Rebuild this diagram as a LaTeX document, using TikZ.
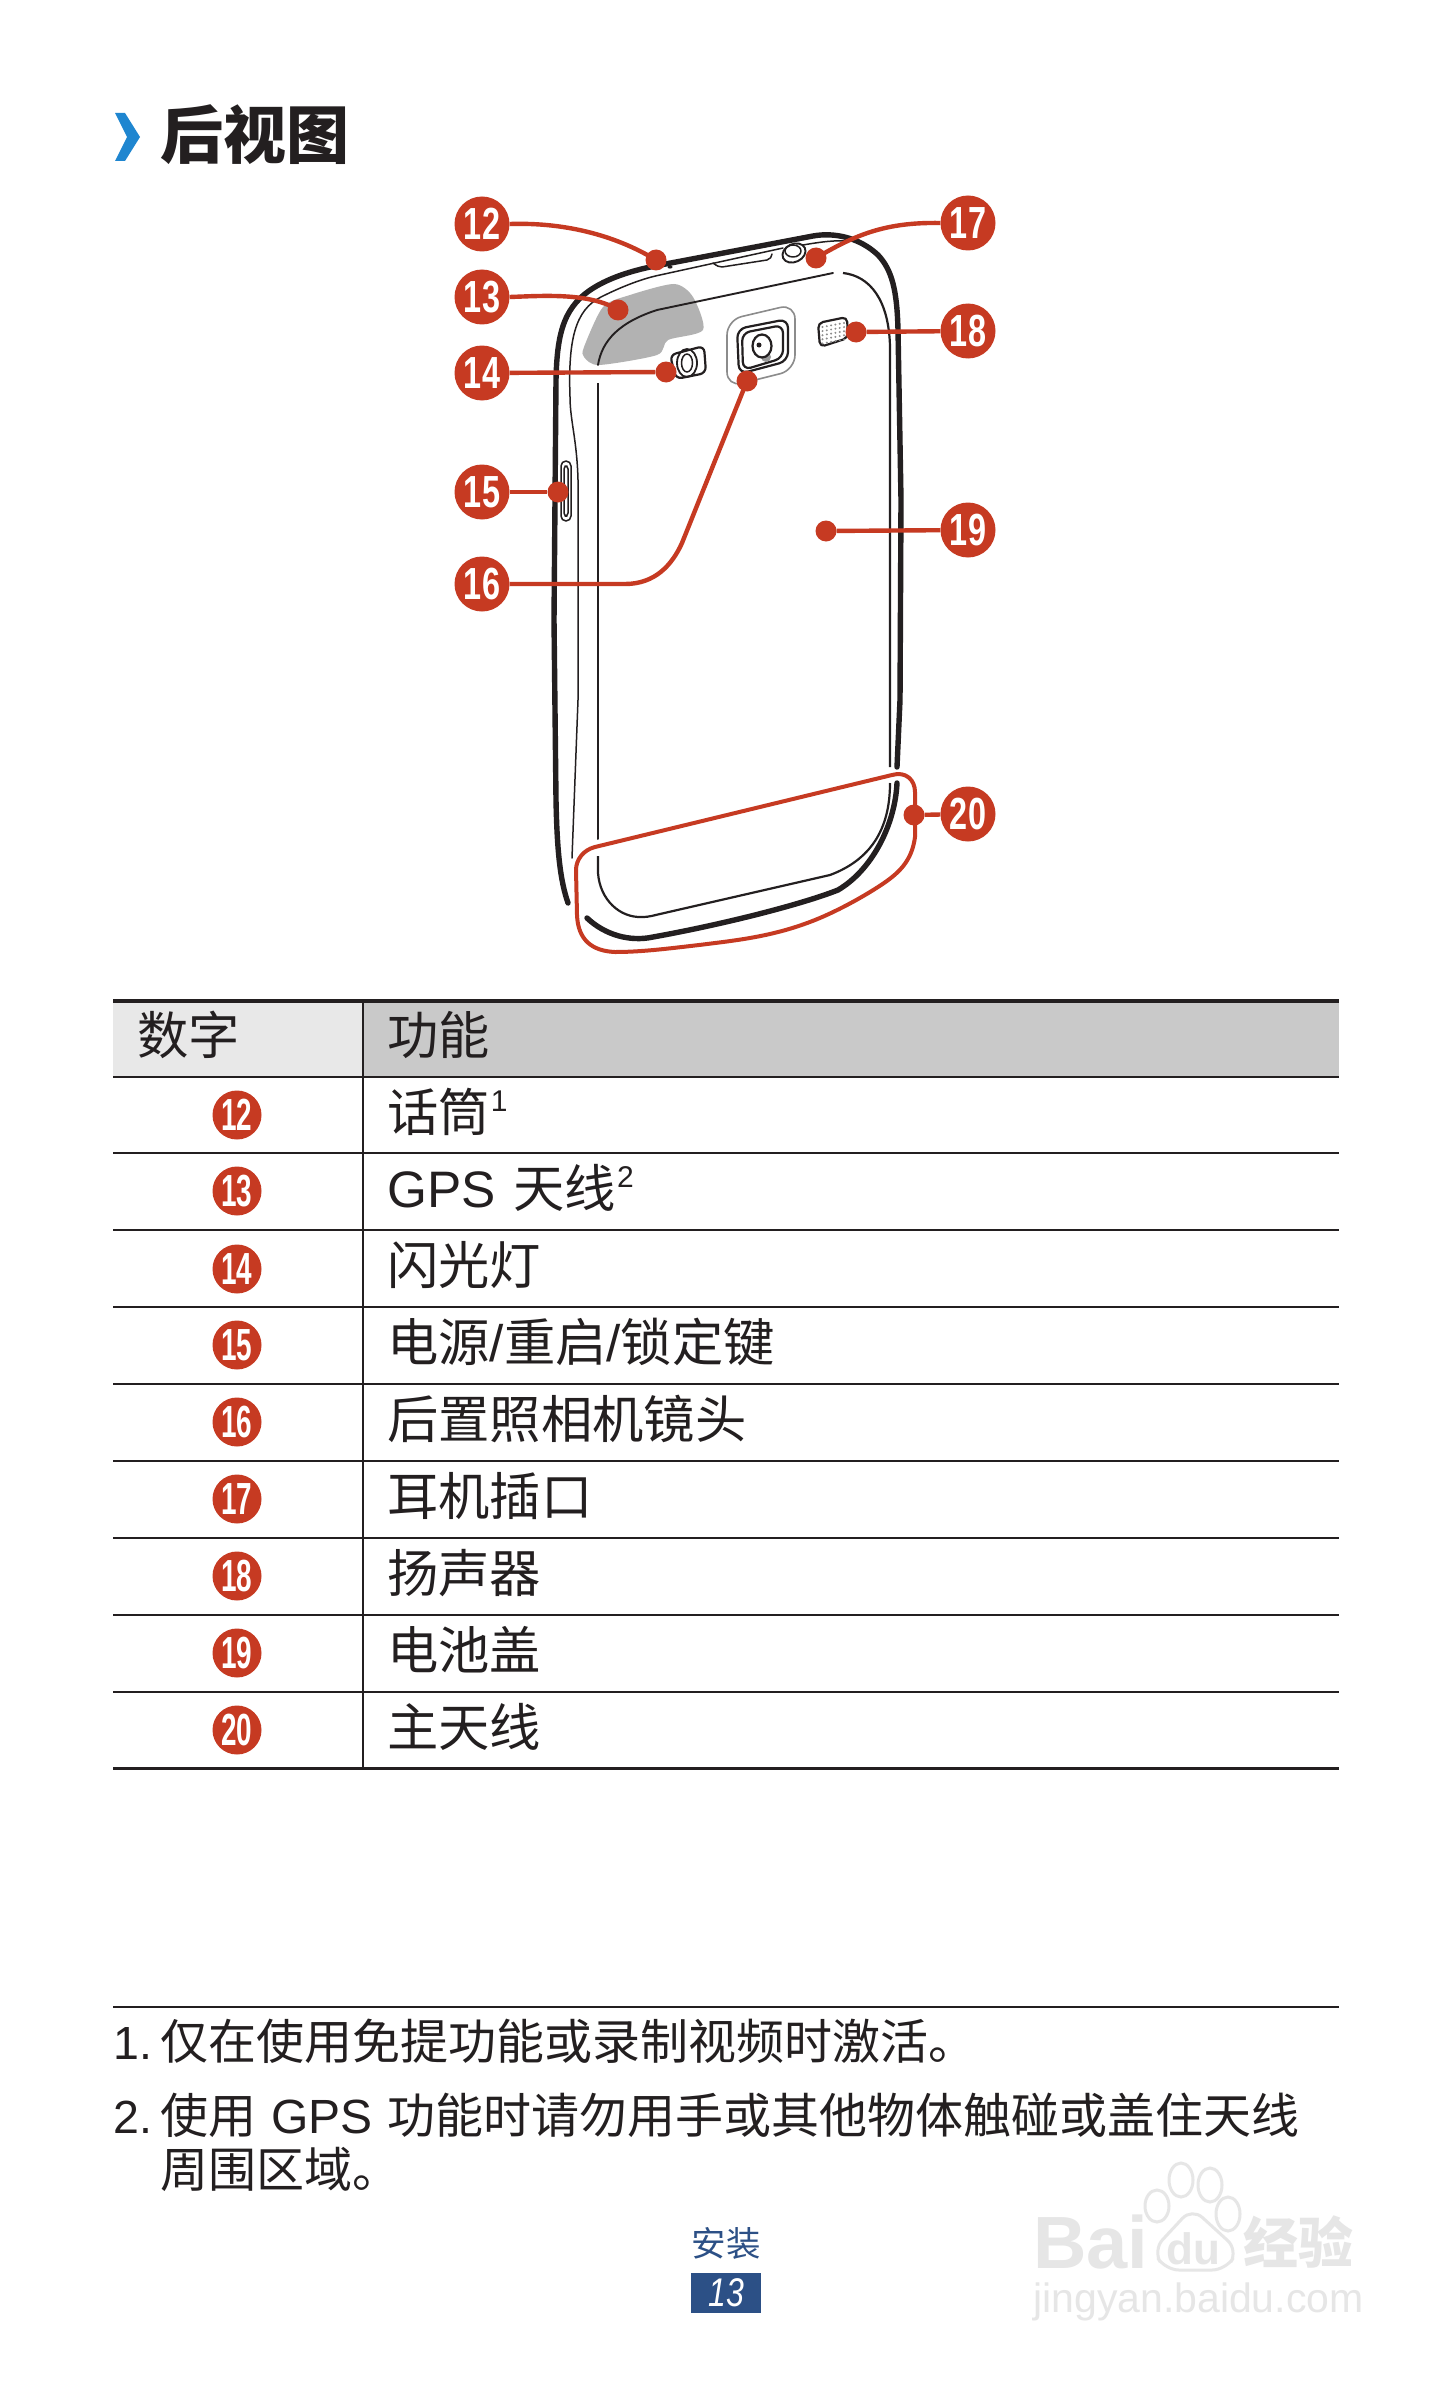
\documentclass[tikz,border=0pt]{standalone}
\usepackage{fontspec}
\usepackage{graphicx}
\setmainfont{Liberation Sans}
\newfontfamily\cjk{Noto Sans CJK SC}
\definecolor{redc}{HTML}{C63A22}
\definecolor{bluet}{HTML}{2C5086}
\definecolor{bluec}{HTML}{1F86D0}
\definecolor{ink}{HTML}{231F20}
\definecolor{wm}{HTML}{E6E6E6}
\newcommand{\fsz}[1]{\fontsize{#1}{#1}\selectfont}
\newcommand{\lbl}[1]{\fsz{45}\bfseries\scalebox{.72}[1]{#1}}
\newcommand{\tbn}[1]{\fsz{45}\bfseries\scalebox{.62}[1]{#1}}
\newcommand{\supn}[1]{{\fontspec{Liberation Sans}\fsz{30}\raisebox{20pt}{\kern1pt #1}}}
\newcommand{\latn}[1]{{\fontspec{Liberation Sans}#1}}
\tikzset{
  numc/.style={circle,fill=redc,text=white,inner sep=0,minimum size=55pt},
  numt/.style={circle,fill=redc,text=white,inner sep=0,minimum size=49pt},
  dotn/.style={circle,fill=redc,inner sep=0,minimum size=21pt},
  conn/.style={draw=redc,line width=4.4pt},
  body/.style={draw=ink,line width=5.4pt,line cap=round,line join=round},
  thin1/.style={draw=ink,line width=1.5pt,line cap=round,line join=round},
  med/.style={draw=ink,line width=2.2pt,line join=round},
  rowl/.style={draw=ink,line width=2pt},
  tx/.style={anchor=base west,inner sep=0,text=ink,font=\cjk\fsz{51.3}},
  fn/.style={anchor=base west,inner sep=0,text=ink,font=\cjk\fsz{48}},
  wmt/.style={text=wm,inner sep=0}
}
\begin{document}
\begin{tikzpicture}[x=1pt,y=-1pt]
\useasboundingbox (0,0) rectangle (1451,2381);
\fill[white] (0,0) rectangle (1451,2381);
% title
\fill[bluec] (115,113) -- (125,113) -- (140,137) -- (125,161) -- (115,161) -- (127,137) -- cycle;
\node[anchor=base west,inner sep=0,text=ink,font=\cjk\bfseries\fsz{63}] (title) at (160,159) {后视图};
% grey patch
\fill[black!30] plot[smooth cycle,tension=.45] coordinates {(674,284) (693,297) (703,330) (668,340) (657,355) (599,365) (584,357) (584,347) (603,307) (630,295)};
% phone body
\draw[body] (568,903) .. controls (560,880) and (557,850) .. (556,800) -- (554,620) -- (556,380)
  .. controls (557,330) and (565,305) .. (595,287) .. controls (610,278) and (630,271) .. (655,266)
  -- (813,236) .. controls (835,232) and (860,238) .. (878,255) .. controls (892,270) and (897,290) .. (898,330)
  -- (901,500) -- (900,700) -- (897,767);
\draw[body] (897,783) .. controls (895,825) and (872,870) .. (838,890) .. controls (800,905) and (720,925) .. (653,937)
  .. controls (630,942) and (605,935) .. (587,918);
% inner thin lines
\draw[thin1] (572,858) -- (578,700) -- (578,480) .. controls (577,440) and (570,420) .. (570,397)
  .. controls (568,340) and (575,310) .. (601,297) .. controls (625,285) and (645,278) .. (660,275) -- (783,248);
\draw[thin1] (803,245) .. controls (820,242) and (835,240) .. (850,241);
\draw[med] (598,383) -- (598,842);
\draw[med] (598,856) -- (598,873) .. controls (600,900) and (620,918) .. (642,917) .. controls (650,917) and (655,915) .. (660,914)
  -- (830,875) .. controls (870,860) and (890,830) .. (890,783);
\draw[med] (843,273) .. controls (870,276) and (889,300) .. (890,347) -- (890,767);
\draw[thin1,line width=1.9pt] (833,273) -- (657,310) .. controls (620,322) and (602,340) .. (598,365);
% power key
\draw[thin1,fill=white,rounded corners=5pt] (561,461) rectangle (571,521);
\draw[thin1,rounded corners=3pt] (564,466) rectangle (568,516);
% flash
\draw[med,rounded corners=6pt,fill=white] (670,355) -- (704,346) -- (706,373) -- (676,379) -- cycle;
\draw[thin1,line width=1.8pt] (687,363) ellipse [x radius=10pt,y radius=14pt];
\draw[thin1] (687,363) ellipse [x radius=5.5pt,y radius=9pt];
% camera
\draw[draw=black!45,line width=1.6pt,rounded corners=15pt] (727,320) -- (795,304) -- (795,370) -- (727,387) -- cycle;
\draw[med,rounded corners=9pt] (737,329) -- (788,319) -- (788,361) -- (739,374) -- cycle;
\draw[med,rounded corners=8pt] (742,333) -- (783,325) -- (783,358) -- (743,370) -- cycle;
\fill[black!40] (766,357) circle (5pt);
\draw[med,fill=white] (762,346) ellipse [x radius=9.5pt,y radius=11.5pt];
\fill[ink] (759,345) circle (2.5pt);
% speaker
\draw[med,rounded corners=5pt] (818,323) -- (847,317) -- (848,338) -- (820,347) -- cycle;
\foreach \i in {0,...,5}{\foreach \j in {0,...,4}{
  \fill[black!45] ({822.5+\i*4.3},{327+\j*4.1-\i*.8}) circle (1.1pt);}}
% top details
\draw[thin1,line width=1.9pt,fill=white,rotate around={25:(794,253)}] (794,253) ellipse [x radius=12pt,y radius=9pt];
\draw[thin1] (793,251) ellipse [x radius=8pt,y radius=6pt];
\draw[thin1] (713,263) .. controls (717,266) and (719,267) .. (722,267) -- (767,260) .. controls (770,259) and (772,257) .. (772,254);
\fill[ink] (670,267) ellipse [x radius=2.5pt,y radius=1.6pt];
% red outline
\draw[white,line width=13pt] (595,847) -- (892,775);
\draw[redc,line width=4pt,line join=round]
  (595,847) -- (892,775) .. controls (906,771) and (915,780) .. (915,792) -- (915,837)
  .. controls (912,860) and (900,872) .. (884,883) .. controls (868,894) and (840,910) .. (815,920)
  .. controls (775,936) and (740,940) .. (699,945) .. controls (665,949) and (640,952) .. (615,952)
  .. controls (592,951) and (578,940) .. (577,915) -- (576,870) .. controls (576,860) and (583,850) .. (595,847) -- cycle;
% callouts
\foreach \n/\x/\y in {12/482/224,13/482/297,14/482/373,15/482/492,16/482/584,17/968/223,18/968/331,19/968/530,20/968/814}
  \node[numc] (n\n) at (\x,\y) {\lbl{\n}};
\node[dotn] (d12) at (656,260) {};
\node[dotn] (d13) at (618,310) {};
\node[dotn] (d14) at (666,372) {};
\node[dotn] (d15) at (558,492) {};
\node[dotn] (d16) at (747,381) {};
\node[dotn] (d17) at (816,258) {};
\node[dotn] (d18) at (856,332) {};
\node[dotn] (d19) at (826,531) {};
\node[dotn] (d20) at (914,815) {};
\draw[conn] (n12.east) .. controls (570,222) and (620,238) .. (d12.center);
\draw[conn] (n13.east) .. controls (540,296) and (590,292) .. (d13.center);
\draw[conn] (n14) -- (d14);
\draw[conn] (n15) -- (d15);
\draw[conn] (n16.east) -- (625,584) .. controls (655,584) and (672,565) .. (682,543) -- (d16.center);
\draw[conn] (n17.west) .. controls (885,222) and (855,235) .. (d17.center);
\draw[conn] (n18) -- (d18);
\draw[conn] (n19) -- (d19);
\draw[conn] (n20) -- (d20);
% table
\fill[black!9] (113,1001) rectangle (363,1077);
\fill[black!21] (363,1001) rectangle (1339,1077);
\draw[draw=ink,line width=3.2pt] (113,1001) -- (1339,1001);
\foreach \y in {1077,1153,1230,1307,1384,1461,1538,1615,1692}
  \draw[rowl] (113,\y) -- (1339,\y);
\draw[draw=ink,line width=3pt] (113,1768) -- (1339,1768);
\draw[rowl] (363,1001) -- (363,1768);
\node[tx] (h1) at (137,1054) {数字};
\node[tx] (h2) at (387,1054) {功能};
\foreach \n/\y in {12/1115,13/1191,14/1269,15/1345,16/1422,17/1499,18/1576,19/1653,20/1730}
  \node[numt] (t\n) at (237,\y) {\tbn{\n}};
\node[tx] (r1) at (387,1131) {话筒\supn{1}};
\node[tx] (r2) at (387,1207) {\latn{GPS}\hspace{18pt}天线\supn{2}};
\node[tx] (r3) at (387,1284) {闪光灯};
\node[tx] (r4) at (387,1361) {电源\latn{/}重启\latn{/}锁定键};
\node[tx] (r5) at (387,1438) {后置照相机镜头};
\node[tx] (r6) at (387,1515) {耳机插口};
\node[tx] (r7) at (387,1592) {扬声器};
\node[tx] (r8) at (387,1669) {电池盖};
\node[tx] (r9) at (387,1746) {主天线};
% footnotes
\draw[draw=ink,line width=1.4pt] (113,2007) -- (1339,2007);
\node[fn,font=\fsz{46.5}] (f1n) at (113,2059) {1.};
\node[fn] (f1) at (160,2059) {仅在使用免提功能或录制视频时激活。};
\node[fn,font=\fsz{46.5}] (f2n) at (113,2133) {2.};
\node[fn] (f2) at (160,2133) {使用\hspace{15pt}\latn{GPS}\hspace{15pt}功能时请勿用手或其他物体触碰或盖住天线};
\node[fn] (f3) at (160,2187) {周围区域。};
% page footer
\node[anchor=center,inner sep=0,text=bluet,font=\cjk\fsz{34.5}] (sec) at (726,2243) {安装};
\node[fill=bluet,inner sep=0,minimum width=70pt,minimum height=40pt,text=white,font=\fsz{40}\itshape] (pg) at (726,2293) {\scalebox{.8}[1]{13}};
% watermark
\node[wmt,anchor=base west,font=\fsz{74}\bfseries] (wm1) at (1033,2268) {Bai};
\node[wmt,anchor=base west,font=\cjk\bfseries\fsz{55}] (wm3) at (1243,2263) {经验};
\node[wmt,anchor=base west,font=\fsz{41}] (wm4) at (1033,2312) {jingyan.baidu.com};
\foreach \cx/\cy/\rx/\ry in {1157/2206/12/16,1181/2180/12/17,1210/2185/12/17,1228/2214/12/17}
  \draw[wm,line width=3pt] (\cx,\cy) ellipse [x radius=\rx pt,y radius=\ry pt];
\draw[wm,line width=3pt,rounded corners=14pt] (1192,2208) -- (1153,2250) -- (1165,2270) -- (1226,2270) -- (1238,2250) -- cycle;
\node[wmt,font=\fsz{44}\bfseries] (wm2) at (1193,2249) {du};
\end{tikzpicture}
\end{document}
